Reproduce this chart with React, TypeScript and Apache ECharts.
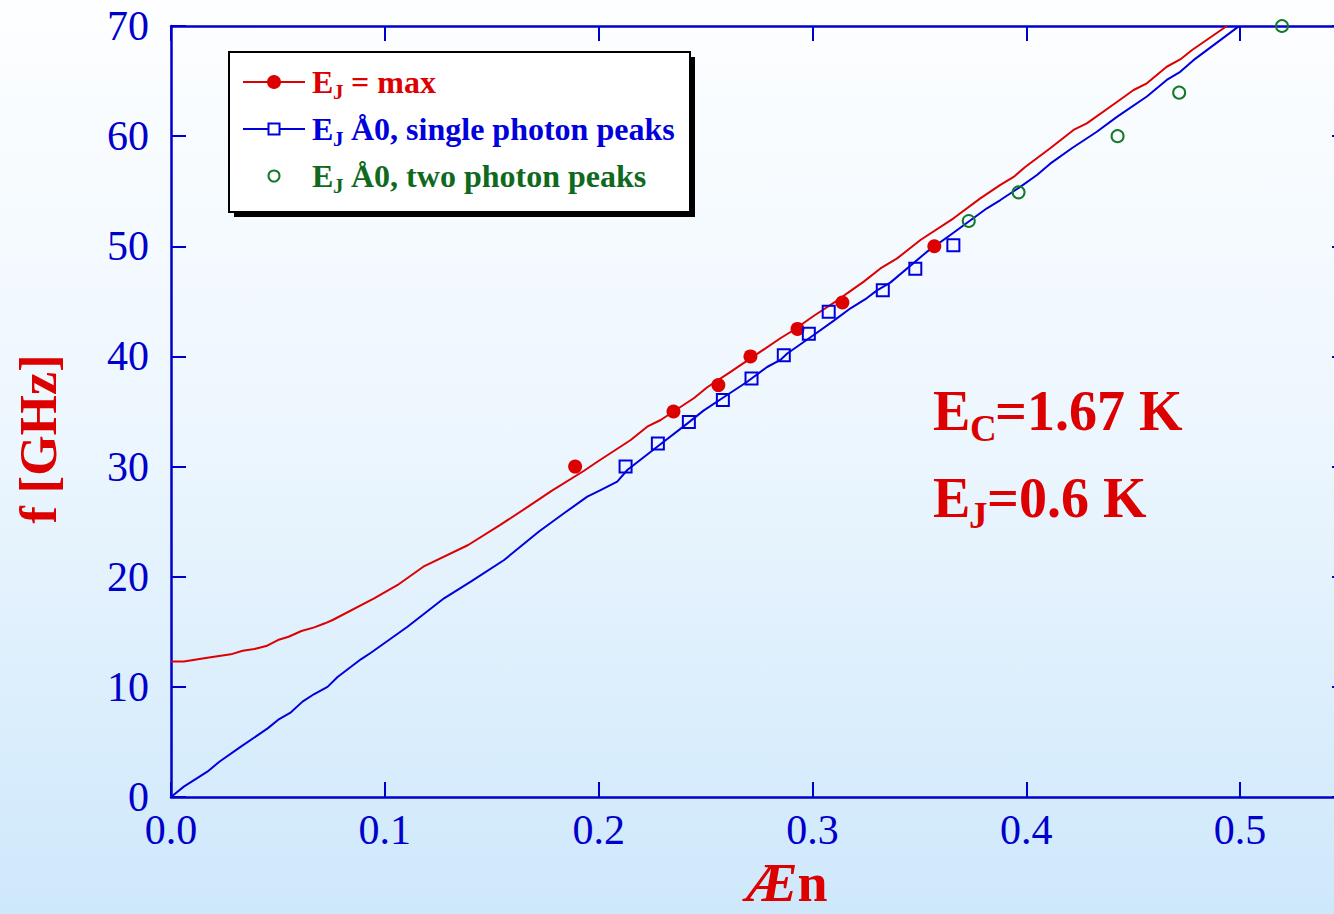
import React, { useEffect, useRef } from "react";
import * as echarts from "echarts";

// Theory curve for E_J = max (frequency in GHz vs. Δn)
const redCurve: [number, number][] = [
  [0, 12.3], [0.006, 12.3], [0.017, 12.65], [0.028, 12.95], [0.0335, 13.28], [0.039, 13.44],
  [0.045, 13.74], [0.05, 14.25], [0.055, 14.55], [0.061, 15.07], [0.067, 15.4], [0.072, 15.77],
  [0.0756, 16.07], [0.095, 18.04], [0.106, 19.25], [0.118, 20.91], [0.139, 22.88], [0.154, 24.7],
  [0.167, 26.36], [0.178, 27.8], [0.193, 29.6], [0.1994, 30.44], [0.215, 32.41], [0.2227, 33.62],
  [0.229, 34.23], [0.2445, 36.2], [0.2508, 37.2], [0.2617, 38.6], [0.2757, 40.43], [0.285, 41.65],
  [0.2913, 42.4], [0.3, 43.6], [0.3131, 45.27], [0.3162, 45.73], [0.324, 46.79], [0.3318, 47.99],
  [0.3396, 48.9], [0.3505, 50.57], [0.366, 52.54], [0.3785, 54.35], [0.3879, 55.57], [0.3941, 56.3],
  [0.3995, 57.2], [0.4112, 58.9], [0.4221, 60.56], [0.4283, 61.16], [0.4424, 63.1], [0.4502, 64.19],
  [0.4564, 64.8], [0.4657, 66.3], [0.472, 66.96], [0.4774, 67.8], [0.4938, 70.0],
];

// Theory curve for E_J ≈ 0 (single photon)
const blueCurve: [number, number][] = [
  [0, 0], [0.006, 0.94], [0.017, 2.3], [0.0226, 3.2], [0.0327, 4.57], [0.0452, 6.23],
  [0.0506, 7.08], [0.0561, 7.69], [0.0615, 8.66], [0.067, 9.35], [0.0732, 10.0], [0.0779, 10.9],
  [0.0888, 12.5], [0.0935, 13.1], [0.1106, 15.46], [0.1277, 18.04], [0.1402, 19.55], [0.1558, 21.52],
  [0.1721, 24.1], [0.1838, 25.76], [0.1947, 27.27], [0.2009, 27.87], [0.2087, 28.63], [0.2134, 29.69],
  [0.2274, 31.8], [0.2414, 33.9], [0.2492, 35.1], [0.2601, 36.5], [0.2695, 37.7], [0.2788, 39.04],
  [0.285, 39.68], [0.2882, 40.27], [0.3006, 41.95], [0.31, 43.25], [0.3178, 44.37], [0.3255, 45.3],
  [0.3302, 46.0], [0.3364, 46.7], [0.3536, 49.51], [0.3645, 51.03], [0.3816, 53.45], [0.3879, 54.2],
  [0.3972, 55.4], [0.405, 56.47], [0.4112, 57.5], [0.4213, 58.9], [0.433, 60.4], [0.4424, 61.75],
  [0.4564, 63.6], [0.4657, 65.1], [0.472, 65.84], [0.4782, 66.9], [0.4992, 69.94],
];

// Measured peak positions
const maxPoints: [number, number][] = [
  [0.189, 30], [0.235, 35], [0.256, 37.4], [0.271, 40], [0.293, 42.5], [0.314, 44.9], [0.357, 50],
];
const singlePeaks: [number, number][] = [
  [0.2126, 30], [0.2277, 32.1], [0.2422, 34.05], [0.2581, 36.05], [0.2715, 38], [0.2866, 40.1],
  [0.2983, 42.05], [0.3076, 44.05], [0.3329, 46], [0.3481, 47.95], [0.3659, 50.1],
];
const twoPhotonPeaks: [number, number][] = [
  [0.3731, 52.3], [0.3964, 54.9], [0.4427, 60], [0.4715, 63.95], [0.5196, 70],
];

const RED = "#dd0000";
const BLUE = "#0000dd";
const AXIS = "#0000cc";
const GREEN = "#147a2a";
const GREEN_TEXT = "#0f6a1e";
const SERIF = "'Liberation Serif', 'Times New Roman', serif";

function txt(x: number, y: number, text: string, size: number, color: string, extra: any = {}) {
  return {
    type: "text",
    x,
    y,
    silent: true,
    z: 20,
    style: {
      text,
      fontFamily: SERIF,
      fontWeight: "bold",
      fontSize: size,
      fill: color,
      align: "left",
      verticalAlign: "middle",
      ...extra,
    },
  };
}

// "E" with a subscript followed by the rest of a label; baseline given in pixels
function subLabel(x: number, baseline: number, size: number, sub: string, rest: string, color: string, subX: number, restX: number) {
  const subSize = Math.round(size * 0.66);
  return [
    txt(x, baseline - 0.3375 * size, "E", size, color),
    txt(subX, baseline + size * 0.2 - 0.3375 * subSize, sub, subSize, color),
    txt(restX, baseline - 0.3375 * size, rest, size, color),
  ];
}

function legendGraphics() {
  const bx = 229, by = 52, bw = 461, bh = 160;
  const rows = [93, 140, 187];
  const els: any[] = [
    { type: "rect", shape: { x: bx + 5, y: by + 5, width: bw, height: bh }, style: { fill: "#000" }, z: 10, silent: true },
    { type: "rect", shape: { x: bx, y: by, width: bw, height: bh }, style: { fill: "#fff", stroke: "#000", lineWidth: 2 }, z: 11, silent: true },
  ];
  const cy = rows.map((b) => b - 11);
  // row 1: red line with filled dot
  els.push({ type: "line", shape: { x1: 243, y1: cy[0], x2: 305, y2: cy[0] }, style: { stroke: RED, lineWidth: 2 }, z: 12, silent: true });
  els.push({ type: "circle", shape: { cx: 274, cy: cy[0], r: 7 }, style: { fill: RED }, z: 13, silent: true });
  // row 2: blue line with open square
  els.push({ type: "line", shape: { x1: 243, y1: cy[1], x2: 305, y2: cy[1] }, style: { stroke: BLUE, lineWidth: 2 }, z: 12, silent: true });
  els.push({ type: "rect", shape: { x: 268.5, y: cy[1] - 5.5, width: 11, height: 11 }, style: { fill: "#fff", stroke: BLUE, lineWidth: 2 }, z: 13, silent: true });
  // row 3: open green circle
  els.push({ type: "circle", shape: { cx: 274, cy: cy[2], r: 5.5 }, style: { fill: "none", stroke: GREEN, lineWidth: 2 }, z: 13, silent: true });

  els.push(...subLabel(312, rows[0], 32, "J", " = max", RED, 333, 343));
  els.push(...subLabel(312, rows[1], 32, "J", " Å0, single photon peaks", BLUE, 333, 343));
  els.push(...subLabel(312, rows[2], 32, "J", " Å0, two photon peaks", GREEN_TEXT, 333, 343));
  return els;
}

export default function App() {
  const ref = useRef<HTMLDivElement>(null);

  useEffect(() => {
    if (!ref.current) return;
    const chart = echarts.init(ref.current, undefined, { renderer: "svg" });

    const axisCommon = {
      type: "value" as const,
      axisLine: { show: true, onZero: false, lineStyle: { color: AXIS, width: 2.5 } },
      axisTick: { show: true, inside: true, length: 15, lineStyle: { color: AXIS, width: 2 } },
      splitLine: { show: false },
    };
    const xCommon = { ...axisCommon, min: 0, max: 0.55, interval: 0.1 };
    const yCommon = { ...axisCommon, min: 0, max: 70, interval: 10 };

    const option: any = {
      animation: false,
      backgroundColor: {
        type: "linear",
        x: 0, y: 0, x2: 0, y2: 1,
        colorStops: [
          { offset: 0, color: "#fdfeff" },
          { offset: 0.45, color: "#eef7fe" },
          { offset: 1, color: "#cee8fb" },
        ],
      },
      grid: { left: 171, top: 26, width: 1176, height: 771, containLabel: false },
      xAxis: [
        {
          ...xCommon,
          position: "bottom",
          axisLabel: {
            show: true,
            showMaxLabel: false,
            margin: 12,
            color: AXIS,
            fontFamily: SERIF,
            fontSize: 42,
            formatter: (v: number) => v.toFixed(1),
          },
        },
        { ...xCommon, position: "top", axisLabel: { show: false } },
      ],
      yAxis: [
        {
          ...yCommon,
          position: "left",
          axisLabel: {
            show: true,
            margin: 22,
            color: AXIS,
            fontFamily: SERIF,
            fontSize: 42,
          },
        },
        { ...yCommon, position: "right", axisLabel: { show: false } },
      ],
      series: [
        {
          type: "line",
          name: "E_J = max",
          data: redCurve,
          showSymbol: false,
          symbol: "none",
          lineStyle: { color: RED, width: 2 },
          z: 3,
        },
        {
          type: "line",
          name: "E_J ≈ 0, single photon peaks",
          data: blueCurve,
          showSymbol: false,
          symbol: "none",
          lineStyle: { color: BLUE, width: 2 },
          z: 3,
        },
        {
          type: "scatter",
          data: maxPoints,
          symbol: "circle",
          symbolSize: 14,
          itemStyle: { color: RED, opacity: 1 },
          z: 5,
        },
        {
          type: "scatter",
          data: singlePeaks,
          symbol: "rect",
          symbolSize: 12,
          itemStyle: { color: "rgba(255,255,255,0)", borderColor: BLUE, borderWidth: 2, opacity: 1 },
          z: 5,
        },
        {
          type: "scatter",
          data: twoPhotonPeaks,
          symbol: "circle",
          symbolSize: 12,
          itemStyle: { color: "rgba(255,255,255,0)", borderColor: GREEN, borderWidth: 2, opacity: 1 },
          z: 5,
        },
      ],
      graphic: [
        ...legendGraphics(),
        // parameter annotations
        ...subLabel(933, 430, 56, "C", "=1.67 K", RED, 970, 995),
        ...subLabel(933, 517, 56, "J", "=0.6 K", RED, 969, 987),
        // axis titles
        {
          type: "text",
          x: 38,
          y: 439,
          rotation: Math.PI / 2,
          silent: true,
          style: {
            text: "f [GHz]",
            fontFamily: SERIF,
            fontWeight: "bold",
            fontSize: 52,
            fill: RED,
            align: "center",
            verticalAlign: "middle",
          },
        },
        {
          type: "text",
          x: 787,
          y: 883,
          silent: true,
          style: {
            text: "{a|Æ}{b|n}",
            align: "center",
            verticalAlign: "middle",
            fontFamily: SERIF,
            fontWeight: "bold",
            fontSize: 54,
            fill: RED,
            rich: {
              a: { fontFamily: SERIF, fontWeight: "bold", fontStyle: "italic", fontSize: 54, color: RED },
              b: { fontFamily: SERIF, fontWeight: "bold", fontSize: 54, color: RED },
            },
          },
        },
      ],
    };

    chart.setOption(option);
    return () => chart.dispose();
  }, []);

  // The plot frame runs past the right edge of the view, so the chart is wider
  // than its clipping box.
  return (
    <div style={{ position: "fixed", left: 0, top: 0, width: 1334, height: 914, overflow: "hidden" }}>
      <div ref={ref} style={{ width: 1370, height: 914 }} />
    </div>
  );
}
